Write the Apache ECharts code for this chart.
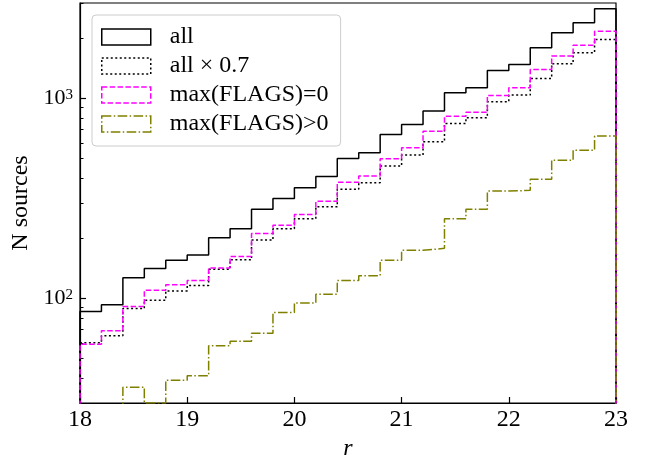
<!DOCTYPE html>
<html>
<head>
<meta charset="utf-8">
<script src="https://cdn.jsdelivr.net/npm/echarts@6/dist/echarts.min.js"></script>
<style>
html,body{margin:0;padding:0;background:#fff;}
#chart{width:651px;height:455px;}
</style>
</head>
<body>
<div id="chart"></div>
<script>
// Bin edges of the r-magnitude histogram (25 bins of width 0.2)
var binEdges = [18.0, 18.2, 18.4, 18.6, 18.8, 19.0, 19.2, 19.4, 19.6, 19.8, 20.0, 20.2, 20.4,
                20.6, 20.8, 21.0, 21.2, 21.4, 21.6, 21.8, 22.0, 22.2, 22.4, 22.6, 22.8, 23.0];
// Counts per bin
var countsAll    = [86, 93, 127, 141, 155, 165, 201, 223, 279, 316, 358, 407, 501, 535, 661, 741, 864, 1068, 1131, 1380, 1479, 1793, 2131, 2391, 2809];
var countsAll07  = [60, 65, 89, 98, 109, 116, 140, 156, 196, 223, 250, 287, 351, 379, 459, 521, 608, 750, 801, 963, 1039, 1259, 1491, 1692, 1972];
var countsFlags0 = [59, 69, 91, 110, 117, 123, 142, 162, 211, 232, 263, 306, 381, 409, 500, 567, 686, 815, 854, 1035, 1131, 1396, 1628, 1847, 2170];
var countsFlagsP = [27, 24, 36, 30, 39, 41, 58, 61, 67, 85, 95, 105, 123, 130, 155, 174, 178, 250, 279, 344, 347, 394, 491, 551, 648];
var seriesNames  = ['all', 'all \u00d7 0.7', 'max(FLAGS)=0', 'max(FLAGS)>0'];
var xTicks = [18, 19, 20, 21, 22, 23];
var yMajorTicks = [100, 1000];
var yMinorTicks = [40, 50, 60, 70, 80, 90, 200, 300, 400, 500, 600, 700, 800, 900, 2000, 3000];
var histBase = 1; // histogram baseline (below the visible log range)

function stepData(counts) {
  var pts = [[binEdges[0], histBase]];
  for (var i = 0; i < counts.length; i++) pts.push([binEdges[i], counts[i]]);
  pts.push([binEdges[binEdges.length - 1], counts[counts.length - 1]]);
  pts.push([binEdges[binEdges.length - 1], histBase]);
  return pts;
}

var FONT = '"Liberation Serif", "Times New Roman", serif';
var styles = [
  {color: '#000000', type: 'solid'},
  {color: '#000000', type: [2, 2.5]},
  {color: '#ff00ff', type: [5.5, 2.4]},
  {color: '#808000', type: [9.6, 2.4, 1.5, 2.4]}
];
var allCounts = [countsAll, countsAll07, countsFlags0, countsFlagsP];

var series = allCounts.map(function (c, i) {
  return {
    name: seriesNames[i],
    type: 'line',
    step: 'end',
    data: stepData(c),
    showSymbol: false,
    symbol: 'none',
    clip: true,
    lineStyle: {color: styles[i].color, width: 1.5, type: styles[i].type},
    itemStyle: {color: styles[i].color},
    emphasis: {disabled: true},
    animation: false
  };
});

var chart = echarts.init(document.getElementById('chart'), null, {renderer: 'canvas'});
chart.setOption({
  backgroundColor: '#ffffff',
  animation: false,
  grid: {left: 80, top: 3, width: 536, height: 400, outerBoundsMode: 'none', containLabel: false,
         show: true, borderColor: '#000', borderWidth: 1.2, backgroundColor: 'transparent'},
  legend: {
    orient: 'vertical',
    left: 92, top: 15,
    padding: [10, 12, 10, 9],
    itemWidth: 49, itemHeight: 16, itemGap: 5,
    borderColor: '#cccccc', borderWidth: 1, borderRadius: 4,
    backgroundColor: 'rgba(255,255,255,0.8)',
    selectedMode: false,
    textStyle: {fontFamily: FONT, fontSize: 24, color: '#000', lineHeight: 24, padding: [0, 0, 0, 14]},
    data: seriesNames.map(function (n, i) {
      return {name: n, icon: 'rect',
        itemStyle: {color: 'rgba(0,0,0,0)', borderColor: styles[i].color, borderWidth: 1.5, borderType: styles[i].type}};
    })
  },
  xAxis: {
    type: 'value', min: 18, max: 23, interval: 1,
    name: 'r', nameLocation: 'middle', nameGap: 27,
    nameTextStyle: {fontFamily: FONT, fontSize: 24, fontStyle: 'italic', color: '#000'},
    axisLine: {show: true, lineStyle: {color: '#000', width: 1.2}},
    axisTick: {show: true, inside: true, length: 6, lineStyle: {color: '#000', width: 1.2}, customValues: xTicks},
    axisLabel: {fontFamily: FONT, fontSize: 24, color: '#000', margin: 5, customValues: xTicks},
    splitLine: {show: false}
  },
  yAxis: [{
    type: 'log', logBase: 10, min: 30, max: 3000,
    name: 'N sources', nameLocation: 'middle', nameGap: 44, nameRotate: 90,
    nameTextStyle: {fontFamily: FONT, fontSize: 24, color: '#000'},
    axisLine: {show: true, lineStyle: {color: '#000', width: 1.2}},
    axisTick: {show: true, inside: true, length: 6, lineStyle: {color: '#000', width: 1.2}, customValues: yMajorTicks},
    axisLabel: {
      margin: 7, customValues: yMajorTicks, showMinLabel: true, showMaxLabel: true,
      formatter: function (v) {
        var e = Math.log10(v);
        if (Math.abs(e - Math.round(e)) > 1e-6) return '';
        return '{m|10}{e|' + Math.round(e) + '}';
      },
      rich: {
        m: {fontFamily: FONT, fontSize: 22, lineHeight: 22, color: '#000', verticalAlign: 'bottom', padding: [3, 0, 0, 0]},
        e: {fontFamily: FONT, fontSize: 15, lineHeight: 15, color: '#000', verticalAlign: 'top'}
      }
    },
    splitLine: {show: false}
  }, {
    type: 'log', logBase: 10, min: 30, max: 3000, position: 'left',
    axisLine: {show: false},
    axisTick: {show: true, inside: true, length: 3.5, lineStyle: {color: '#000', width: 1}, customValues: yMinorTicks},
    axisLabel: {show: false},
    splitLine: {show: false}
  }],
  series: series
});
</script>
</body>
</html>
